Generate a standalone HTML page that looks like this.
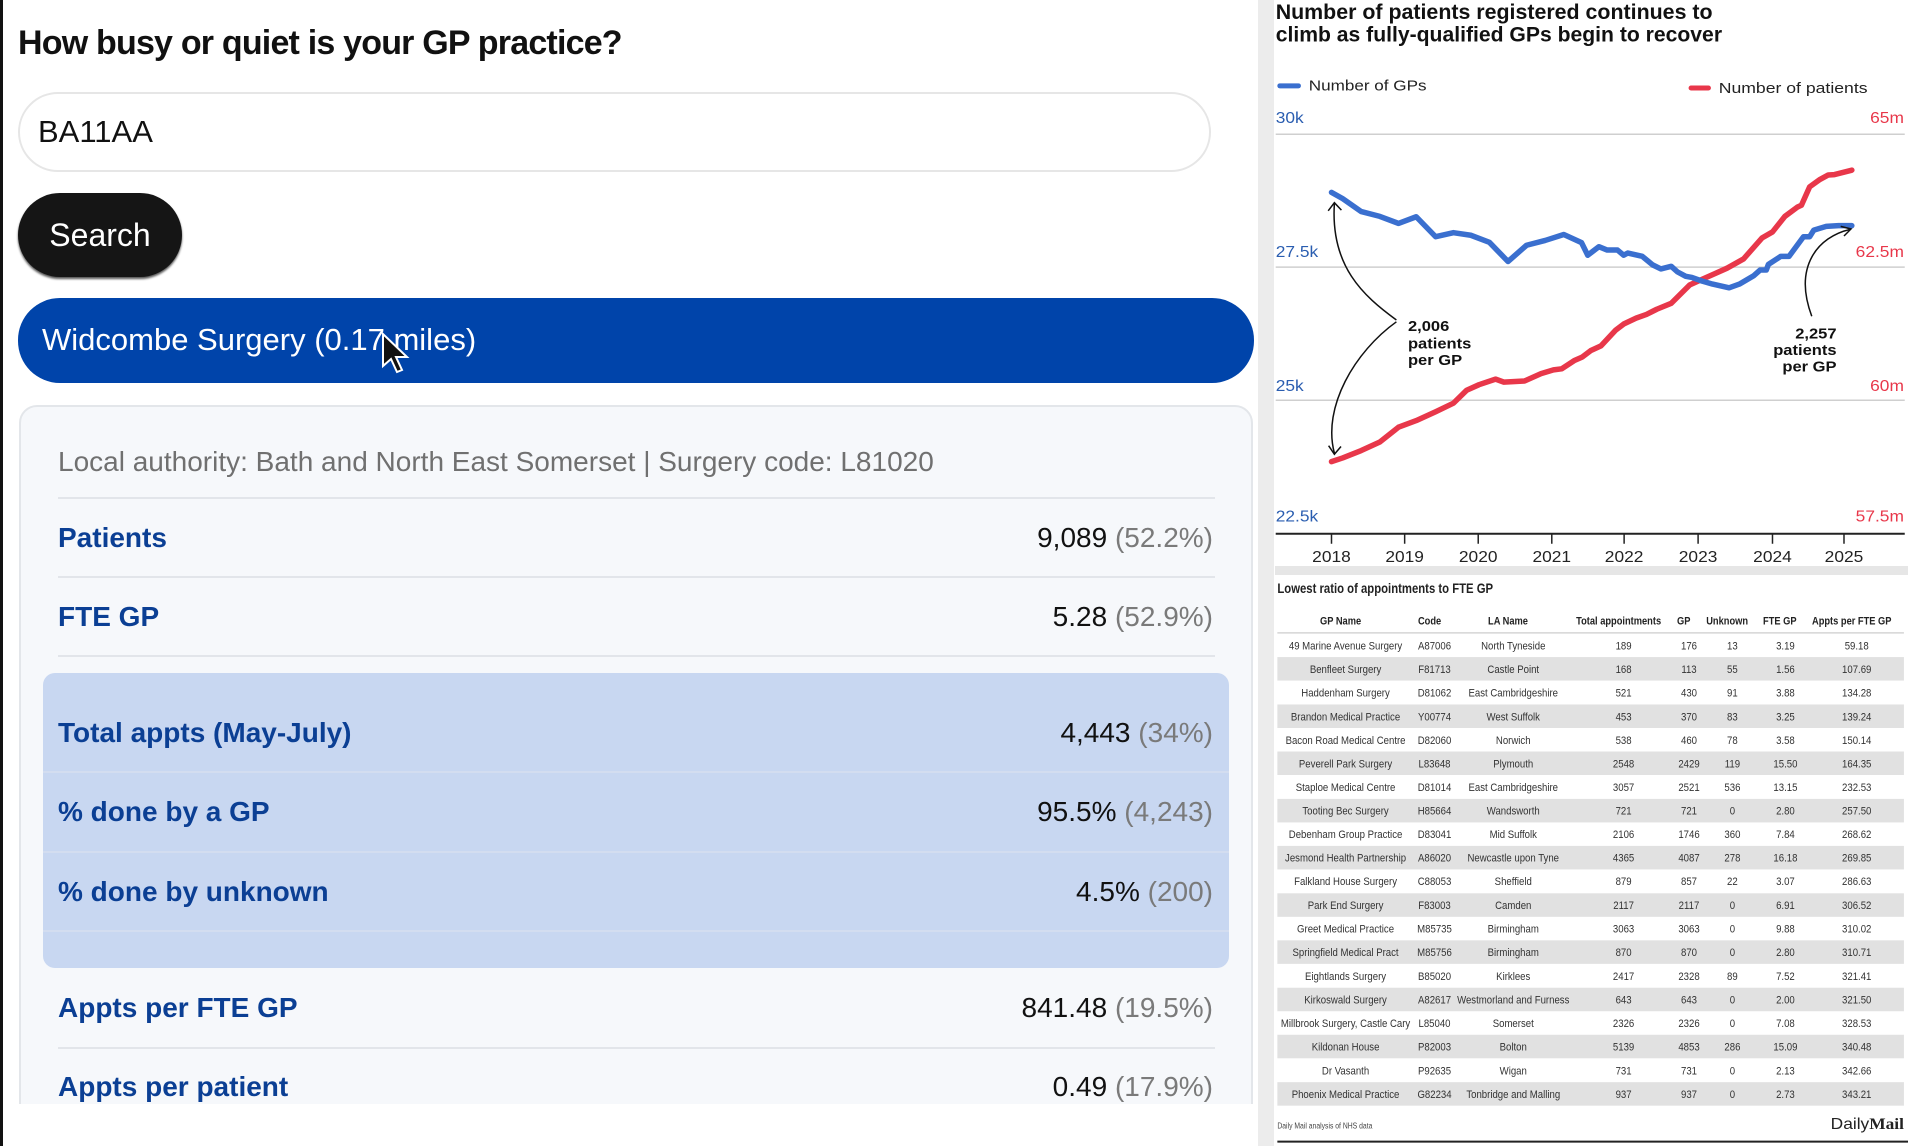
<!DOCTYPE html>
<html><head><meta charset="utf-8">
<style>
*{margin:0;padding:0;box-sizing:border-box}
body{width:1908px;height:1146px;overflow:hidden;background:#fff;font-family:"Liberation Sans",Arial,sans-serif;position:relative}
.a{position:absolute}
.row{position:absolute;left:58px;width:1155px;height:40px;line-height:40px;font-size:28px}
.row .l{position:absolute;left:0;color:#0b3f94;font-weight:bold}
.row .r{position:absolute;right:0;color:#111}
.row .r span{color:#7a7a7a}
.hr{position:absolute;left:58px;width:1157px;height:2px;background:#e2e5ea}
.hr2{position:absolute;left:43px;width:1186px;height:2px;background:#d3ddf0}
</style></head><body>
<div class="a" style="left:0;top:0;width:3px;height:1146px;background:#111"></div>
<div class="a" style="left:18px;top:24px;font-size:34px;font-weight:bold;color:#111;letter-spacing:-0.8px">How busy or quiet is your GP practice?</div>
<div class="a" style="left:18px;top:92px;width:1193px;height:80px;border:2px solid #e6e6e6;border-radius:40px;background:#fff"></div>
<div class="a" style="left:38px;top:112px;font-size:31px;color:#111;line-height:40px">BA11AA</div>
<div class="a" style="left:18px;top:193px;width:164px;height:84px;border-radius:42px;background:#151515;box-shadow:0 2px 2px #555"></div>
<div class="a" style="left:18px;top:193px;width:164px;height:84px;line-height:84px;text-align:center;color:#fff;font-size:32px">Search</div>
<div class="a" style="left:18px;top:298px;width:1236px;height:85px;border-radius:42px;background:#0044aa"></div>
<div class="a" style="left:42px;top:320px;font-size:31px;color:#fff;line-height:40px">Widcombe Surgery (0.17 miles)</div>
<svg class="a" style="left:380px;top:332px" width="34" height="46" viewBox="0 0 34 46"><path d="M3 2 L3 34 L11 27 L17 40 L22 38 L16 25 L27 25 Z" fill="#111" stroke="#fff" stroke-width="2"/></svg>
<div class="a" style="left:19px;top:405px;width:1234px;height:720px;border:2px solid #e3e6ea;border-radius:18px;background:#f6f8fb"></div>
<div class="a" style="left:0;top:1104px;width:1260px;height:42px;background:#fff"></div>
<div class="a" style="left:0;top:1104px;width:3px;height:42px;background:#111"></div>
<div class="a" style="left:58px;top:442px;font-size:28px;color:#707070;line-height:40px">Local authority: Bath and North East Somerset | Surgery code: L81020</div>
<div class="hr" style="top:497px"></div>
<div class="row" style="top:518px"><div class="l">Patients</div><div class="r">9,089 <span>(52.2%)</span></div></div>
<div class="hr" style="top:576px"></div>
<div class="row" style="top:597px"><div class="l">FTE GP</div><div class="r">5.28 <span>(52.9%)</span></div></div>
<div class="hr" style="top:655px"></div>
<div class="a" style="left:43px;top:673px;width:1186px;height:295px;border-radius:12px;background:#c8d7f1"></div>
<div class="row" style="top:713px"><div class="l">Total appts (May-July)</div><div class="r">4,443 <span>(34%)</span></div></div>
<div class="hr2" style="top:771px"></div>
<div class="row" style="top:792px"><div class="l">% done by a GP</div><div class="r">95.5% <span>(4,243)</span></div></div>
<div class="hr2" style="top:851px"></div>
<div class="row" style="top:872px"><div class="l">% done by unknown</div><div class="r">4.5% <span>(200)</span></div></div>
<div class="hr2" style="top:930px"></div>
<div class="row" style="top:988px"><div class="l">Appts per FTE GP</div><div class="r">841.48 <span>(19.5%)</span></div></div>
<div class="hr" style="top:1047px"></div>
<div class="a" style="left:20px;top:1060px;width:1232px;height:44px;overflow:hidden"><div class="row" style="top:7px;left:38px"><div class="l">Appts per patient</div><div class="r">0.49 <span>(17.9%)</span></div></div></div>

<svg class="a" style="left:0;top:0" width="1908" height="1146" viewBox="0 0 1908 1146">
<rect x="1258" y="0" width="16" height="1146" fill="#ececec"/>
<rect x="1275" y="566" width="633" height="9" fill="#e6e6e6"/>
<g transform="translate(1260,0) scale(0.4133,0.3699)" font-family="Liberation Sans, Arial, sans-serif">
<text x="38" y="52" font-size="58" font-weight="bold" textLength="1057" lengthAdjust="spacingAndGlyphs" fill="#111">Number of patients registered continues to</text>
<text x="38" y="112" font-size="58" font-weight="bold" textLength="1080" lengthAdjust="spacingAndGlyphs" fill="#111">climb as fully-qualified GPs begin to recover</text>
<line x1="48" y1="232" x2="93" y2="232" stroke="#3a6fcf" stroke-width="5" stroke-linecap="round" vector-effect="non-scaling-stroke"/>
<text x="118" y="245" font-size="40" textLength="285" lengthAdjust="spacingAndGlyphs" fill="#222">Number of GPs</text>
<line x1="1043" y1="238" x2="1085" y2="238" stroke="#e8374a" stroke-width="5" stroke-linecap="round" vector-effect="non-scaling-stroke"/>
<text x="1110" y="252" font-size="40" textLength="360" lengthAdjust="spacingAndGlyphs" fill="#222">Number of patients</text>
<g stroke="#cfcfcf" stroke-width="1.5">
<line x1="38" y1="363" x2="1560" y2="363" vector-effect="non-scaling-stroke"/>
<line x1="38" y1="722" x2="1560" y2="722" vector-effect="non-scaling-stroke"/>
<line x1="38" y1="1082" x2="1560" y2="1082" vector-effect="non-scaling-stroke"/>
</g>
<line x1="38" y1="1443" x2="1560" y2="1443" stroke="#222" stroke-width="2" vector-effect="non-scaling-stroke"/>
<g stroke="#222" stroke-width="1.5">
<line x1="173" y1="1443" x2="173" y2="1470" vector-effect="non-scaling-stroke"/><line x1="350" y1="1443" x2="350" y2="1470" vector-effect="non-scaling-stroke"/><line x1="528" y1="1443" x2="528" y2="1470" vector-effect="non-scaling-stroke"/><line x1="706" y1="1443" x2="706" y2="1470" vector-effect="non-scaling-stroke"/><line x1="881" y1="1443" x2="881" y2="1470" vector-effect="non-scaling-stroke"/><line x1="1060" y1="1443" x2="1060" y2="1470" vector-effect="non-scaling-stroke"/><line x1="1240" y1="1443" x2="1240" y2="1470" vector-effect="non-scaling-stroke"/><line x1="1413" y1="1443" x2="1413" y2="1470" vector-effect="non-scaling-stroke"/>
</g>
<g font-size="42" fill="#222" text-anchor="middle">
<text x="173" y="1520">2018</text><text x="350" y="1520">2019</text><text x="528" y="1520">2020</text><text x="706" y="1520">2021</text><text x="881" y="1520">2022</text><text x="1060" y="1520">2023</text><text x="1240" y="1520">2024</text><text x="1413" y="1520">2025</text>
</g>
<g font-size="42" fill="#2a5db0">
<text x="38" y="333">30k</text><text x="38" y="695">27.5k</text><text x="38" y="1057">25k</text><text x="38" y="1410">22.5k</text>
</g>
<g font-size="42" fill="#e8374a" text-anchor="end">
<text x="1558" y="333">65m</text><text x="1558" y="695">62.5m</text><text x="1558" y="1057">60m</text><text x="1558" y="1410">57.5m</text>
</g>
<polyline fill="none" stroke="#e8374a" stroke-width="5.5" stroke-linejoin="round" stroke-linecap="round" vector-effect="non-scaling-stroke" points="173,1248 200,1238 245,1218 290,1195 335,1155 378,1137 425,1113 468,1090 500,1055 530,1040 570,1025 590,1033 640,1030 680,1010 710,1000 730,997 760,975 780,965 800,948 825,935 860,893 880,876 910,860 935,850 960,836 995,820 1040,770 1070,755 1100,740 1130,725 1170,700 1215,643 1240,627 1270,585 1300,560 1310,555 1330,505 1355,485 1375,473 1390,472 1432,460"/>
<polyline fill="none" stroke="#3a6fcf" stroke-width="5.5" stroke-linejoin="round" stroke-linecap="round" vector-effect="non-scaling-stroke" points="173,520 200,537 245,572 290,585 335,604 378,586 425,640 468,629 510,636 555,655 600,707 645,663 690,650 735,634 778,656 793,690 820,667 840,676 865,676 880,690 890,684 925,693 950,716 970,727 995,720 1010,735 1030,747 1045,750 1070,760 1095,768 1135,778 1160,768 1195,745 1210,730 1225,730 1230,715 1260,693 1280,693 1315,640 1330,640 1340,622 1370,612 1400,610 1432,610"/>
<g fill="none" stroke="#111" stroke-width="1.5">
<path d="M330 865 C 250 800, 170 720, 180 550" vector-effect="non-scaling-stroke"/>
<path d="M165 570 L180 548 L197 568" vector-effect="non-scaling-stroke"/>
<path d="M330 870 C 230 950, 150 1100, 180 1225" vector-effect="non-scaling-stroke"/>
<path d="M166 1205 L180 1228 L196 1207" vector-effect="non-scaling-stroke"/>
<path d="M1335 855 C 1290 720, 1350 640, 1428 620" vector-effect="non-scaling-stroke"/>
<path d="M1405 612 L1430 619 L1413 638" vector-effect="non-scaling-stroke"/>
</g>
<g font-size="40" font-weight="bold" fill="#111">
<text x="358" y="895">2,006</text><text x="358" y="942">patients</text><text x="358" y="987">per GP</text>
</g>
<g font-size="40" font-weight="bold" fill="#111" text-anchor="end">
<text x="1395" y="915">2,257</text><text x="1395" y="960">patients</text><text x="1395" y="1005">per GP</text>
</g>
</g>

<g transform="translate(1260,570) scale(0.4133,0.3674)" font-family="Liberation Sans, Arial, sans-serif">
<text x="42" y="62" font-size="38" font-weight="bold" fill="#222" textLength="522" lengthAdjust="spacingAndGlyphs">Lowest ratio of appointments to FTE GP</text>
<line x1="42" y1="171" x2="1558" y2="171" stroke="#d5d5d5" stroke-width="1.5" vector-effect="non-scaling-stroke"/>
<g fill="#e1e1e1">
<rect x="42" y="237" width="1516" height="64"/><rect x="42" y="366" width="1516" height="64"/><rect x="42" y="494" width="1516" height="64"/><rect x="42" y="623" width="1516" height="64"/><rect x="42" y="751" width="1516" height="64"/><rect x="42" y="880" width="1516" height="64"/><rect x="42" y="1008" width="1516" height="64"/><rect x="42" y="1137" width="1516" height="64"/><rect x="42" y="1265" width="1516" height="64"/><rect x="42" y="1394" width="1516" height="64"/>
</g>
<g transform="scale(0.75,1)">
<g font-size="30" font-weight="bold" fill="#222" text-anchor="middle">
<text x="260" y="148">GP Name</text><text x="547" y="148">Code</text><text x="800" y="148">LA Name</text><text x="1157" y="148">Total appointments</text><text x="1367" y="148">GP</text><text x="1507" y="148">Unknown</text><text x="1677" y="148">FTE GP</text><text x="1909" y="148">Appts per FTE GP</text>
</g>
<g font-size="31" fill="#333" text-anchor="middle">
<g transform="translate(0,216)"><text x="276">49 Marine Avenue Surgery</text><text x="563">A87006</text><text x="817">North Tyneside</text><text x="1173">189</text><text x="1384">176</text><text x="1524">13</text><text x="1695">3.19</text><text x="1925">59.18</text></g>
<g transform="translate(0,280)"><text x="276">Benfleet Surgery</text><text x="563">F81713</text><text x="817">Castle Point</text><text x="1173">168</text><text x="1384">113</text><text x="1524">55</text><text x="1695">1.56</text><text x="1925">107.69</text></g>
<g transform="translate(0,344)"><text x="276">Haddenham Surgery</text><text x="563">D81062</text><text x="817">East Cambridgeshire</text><text x="1173">521</text><text x="1384">430</text><text x="1524">91</text><text x="1695">3.88</text><text x="1925">134.28</text></g>
<g transform="translate(0,409)"><text x="276">Brandon Medical Practice</text><text x="563">Y00774</text><text x="817">West Suffolk</text><text x="1173">453</text><text x="1384">370</text><text x="1524">83</text><text x="1695">3.25</text><text x="1925">139.24</text></g>
<g transform="translate(0,473)"><text x="276">Bacon Road Medical Centre</text><text x="563">D82060</text><text x="817">Norwich</text><text x="1173">538</text><text x="1384">460</text><text x="1524">78</text><text x="1695">3.58</text><text x="1925">150.14</text></g>
<g transform="translate(0,537)"><text x="276">Peverell Park Surgery</text><text x="563">L83648</text><text x="817">Plymouth</text><text x="1173">2548</text><text x="1384">2429</text><text x="1524">119</text><text x="1695">15.50</text><text x="1925">164.35</text></g>
<g transform="translate(0,601)"><text x="276">Staploe Medical Centre</text><text x="563">D81014</text><text x="817">East Cambridgeshire</text><text x="1173">3057</text><text x="1384">2521</text><text x="1524">536</text><text x="1695">13.15</text><text x="1925">232.53</text></g>
<g transform="translate(0,666)"><text x="276">Tooting Bec Surgery</text><text x="563">H85664</text><text x="817">Wandsworth</text><text x="1173">721</text><text x="1384">721</text><text x="1524">0</text><text x="1695">2.80</text><text x="1925">257.50</text></g>
<g transform="translate(0,730)"><text x="276">Debenham Group Practice</text><text x="563">D83041</text><text x="817">Mid Suffolk</text><text x="1173">2106</text><text x="1384">1746</text><text x="1524">360</text><text x="1695">7.84</text><text x="1925">268.62</text></g>
<g transform="translate(0,794)"><text x="276">Jesmond Health Partnership</text><text x="563">A86020</text><text x="817">Newcastle upon Tyne</text><text x="1173">4365</text><text x="1384">4087</text><text x="1524">278</text><text x="1695">16.18</text><text x="1925">269.85</text></g>
<g transform="translate(0,858)"><text x="276">Falkland House Surgery</text><text x="563">C88053</text><text x="817">Sheffield</text><text x="1173">879</text><text x="1384">857</text><text x="1524">22</text><text x="1695">3.07</text><text x="1925">286.63</text></g>
<g transform="translate(0,923)"><text x="276">Park End Surgery</text><text x="563">F83003</text><text x="817">Camden</text><text x="1173">2117</text><text x="1384">2117</text><text x="1524">0</text><text x="1695">6.91</text><text x="1925">306.52</text></g>
<g transform="translate(0,987)"><text x="276">Greet Medical Practice</text><text x="563">M85735</text><text x="817">Birmingham</text><text x="1173">3063</text><text x="1384">3063</text><text x="1524">0</text><text x="1695">9.88</text><text x="1925">310.02</text></g>
<g transform="translate(0,1051)"><text x="276">Springfield Medical Pract</text><text x="563">M85756</text><text x="817">Birmingham</text><text x="1173">870</text><text x="1384">870</text><text x="1524">0</text><text x="1695">2.80</text><text x="1925">310.71</text></g>
<g transform="translate(0,1116)"><text x="276">Eightlands Surgery</text><text x="563">B85020</text><text x="817">Kirklees</text><text x="1173">2417</text><text x="1384">2328</text><text x="1524">89</text><text x="1695">7.52</text><text x="1925">321.41</text></g>
<g transform="translate(0,1180)"><text x="276">Kirkoswald Surgery</text><text x="563">A82617</text><text x="817">Westmorland and Furness</text><text x="1173">643</text><text x="1384">643</text><text x="1524">0</text><text x="1695">2.00</text><text x="1925">321.50</text></g>
<g transform="translate(0,1244)"><text x="276">Millbrook Surgery, Castle Cary</text><text x="563">L85040</text><text x="817">Somerset</text><text x="1173">2326</text><text x="1384">2326</text><text x="1524">0</text><text x="1695">7.08</text><text x="1925">328.53</text></g>
<g transform="translate(0,1308)"><text x="276">Kildonan House</text><text x="563">P82003</text><text x="817">Bolton</text><text x="1173">5139</text><text x="1384">4853</text><text x="1524">286</text><text x="1695">15.09</text><text x="1925">340.48</text></g>
<g transform="translate(0,1373)"><text x="276">Dr Vasanth</text><text x="563">P92635</text><text x="817">Wigan</text><text x="1173">731</text><text x="1384">731</text><text x="1524">0</text><text x="1695">2.13</text><text x="1925">342.66</text></g>
<g transform="translate(0,1437)"><text x="276">Phoenix Medical Practice</text><text x="563">G82234</text><text x="817">Tonbridge and Malling</text><text x="1173">937</text><text x="1384">937</text><text x="1524">0</text><text x="1695">2.73</text><text x="1925">343.21</text></g>
</g>
<text x="56" y="1520" font-size="22" fill="#444">Daily Mail analysis of NHS data</text>
</g>
<text x="1558" y="1522" font-size="42" fill="#222" text-anchor="end">Daily<tspan font-family="Liberation Serif, serif" font-weight="bold">Mail</tspan></text>
<line x1="42" y1="1556" x2="1568" y2="1556" stroke="#222" stroke-width="2" vector-effect="non-scaling-stroke"/>
</g>
</svg>
</body></html>
